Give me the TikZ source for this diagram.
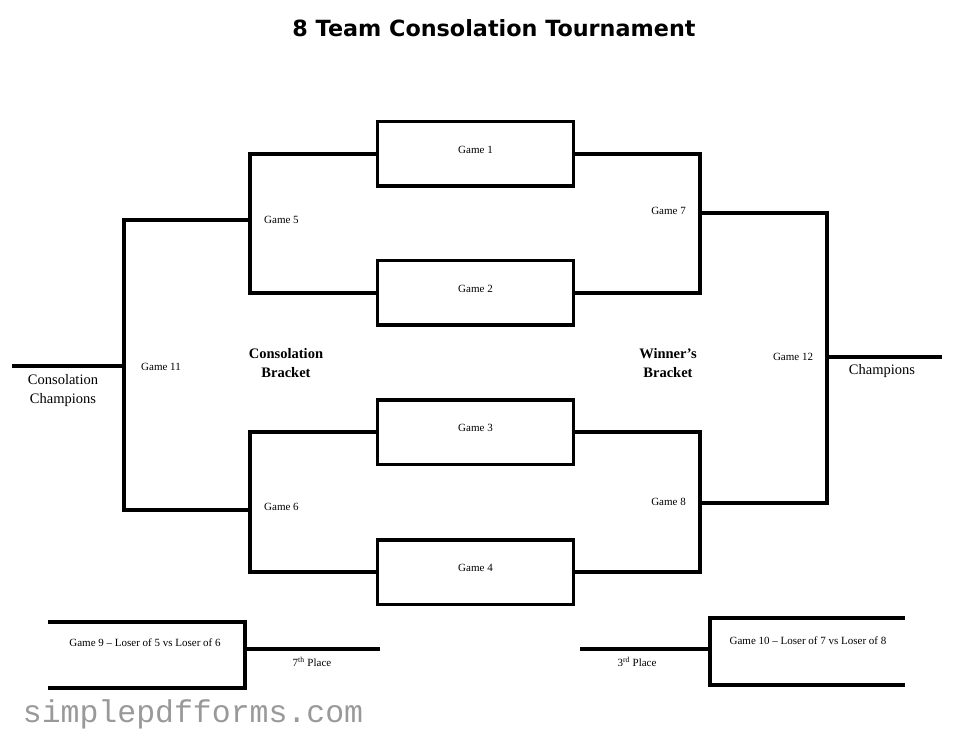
\documentclass[tikz,border=0pt]{standalone}
\usepackage{fontspec}
\setmainfont{Liberation Serif}
\newfontfamily\titlefont{DejaVu Sans}
\newfontfamily\wmfont{Liberation Mono}
\begin{document}
\begin{tikzpicture}[x=1pt,y=-1pt,
  br/.style={line width=4pt},
  game/.style={draw, line width=3.5pt, minimum width=196pt, minimum height=64.5pt, inner sep=0pt},
  lbl/.style={font=\fontsize{11}{13}\selectfont, inner sep=0pt},
  big/.style={font=\fontsize{14.5}{19.5}\selectfont, align=center, inner sep=0pt},
  bigb/.style={font=\fontsize{14.5}{19.5}\selectfont\bfseries, align=center, inner sep=0pt}]
\useasboundingbox (0,0) rectangle (972,751);
\node[font=\titlefont\bfseries\fontsize{22.3}{26}\selectfont] (title) at (494,28) {8 Team Consolation Tournament};
% game boxes
\node[game] (g1) at (475.5,154) {};
\node[game] (g2) at (475.5,293) {};
\node[game] (g3) at (475.5,432) {};
\node[game] (g4) at (475.5,572) {};
\node[lbl] at ([yshift=4pt]g1.center) {Game 1};
\node[lbl] at ([yshift=4pt]g2.center) {Game 2};
\node[lbl] at ([yshift=4pt]g3.center) {Game 3};
\node[lbl] at ([yshift=4pt]g4.center) {Game 4};
% joints
\coordinate (c5) at (250,220);
\coordinate (c6) at (250,510);
\coordinate (c11) at (124,366);
\coordinate (cc) at (12,366);
\coordinate (c7) at (700,213);
\coordinate (c8) at (700,503);
\coordinate (c12) at (827,357);
\coordinate (ch) at (942,357);
% consolation bracket
\draw[br] (g1.west) -| (c5) |- (g2.west);
\draw[br] (g3.west) -| (c6) |- (g4.west);
\draw[br] (c5) -| (c11) |- (c6);
\draw[br] (c11) -- (cc);
% winner's bracket
\draw[br] (g1.east) -| (c7) |- (g2.east);
\draw[br] (g3.east) -| (c8) |- (g4.east);
\draw[br] (c7) -| (c12) |- (c8);
\draw[br] (c12) -- (ch);
% labels
\node[lbl, anchor=west] at (264,220) {Game 5};
\node[lbl, anchor=west] at (264,507) {Game 6};
\node[lbl, anchor=west] at (141,367) {Game 11};
\node[lbl, anchor=east] at (686,211) {Game 7};
\node[lbl, anchor=east] at (686,502) {Game 8};
\node[lbl] at (793,357) {Game 12};
\node[big] at (882,371) {Champions};
\node[big] at (63,390.5) {Consolation\\Champions};
\node[bigb] at (286,363) {Consolation\\Bracket};
\node[bigb] at (668,363) {Winner’s\\Bracket};
% game 9
\coordinate (g9a) at (48,622);
\coordinate (g9b) at (48,688);
\coordinate (c9) at (245,649);
\coordinate (p7) at (380,649);
\draw[br] (g9a) -| (c9) |- (g9b);
\draw[br] (c9) -- (p7);
\node[lbl] at (145,643) {Game 9 – Loser of 5 vs Loser of 6};
\node[lbl] at (312,662) {7\textsuperscript{th} Place};
% game 10
\coordinate (g10a) at (905,618);
\coordinate (g10b) at (905,685);
\coordinate (c10) at (710,649);
\coordinate (p3) at (580,649);
\draw[br] (g10a) -| (c10) |- (g10b);
\draw[br] (c10) -- (p3);
\node[lbl] at (808,641) {Game 10 – Loser of 7 vs Loser of 8};
\node[lbl] at (637,662) {3\textsuperscript{rd} Place};
% watermark
\node[font=\wmfont\fontsize{31.5}{36}\selectfont, text=black!40] (wm) at (193,714) {simplepdfforms.com};
\end{tikzpicture}
\end{document}
